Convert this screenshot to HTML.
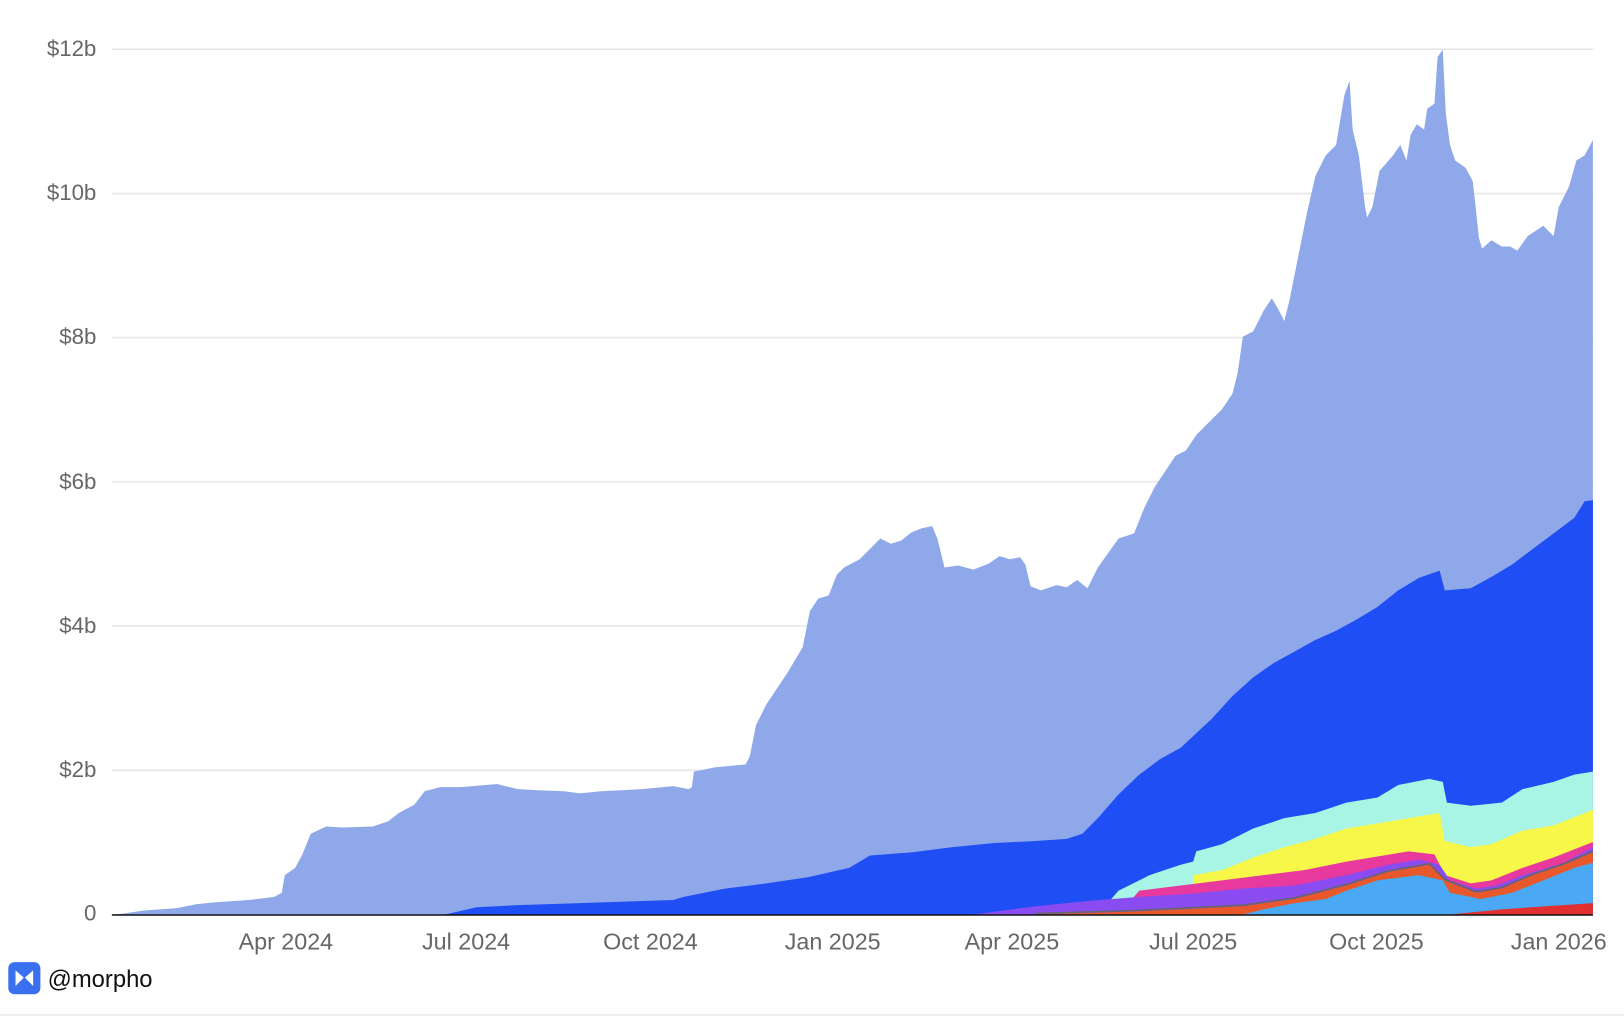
<!DOCTYPE html>
<html><head><meta charset="utf-8"><style>
html,body{margin:0;padding:0;background:#fff;}
svg{display:block;}
text{font-family:"Liberation Sans",Arial,sans-serif;}
</style></head><body>
<svg width="1624" height="1016" viewBox="0 0 1568 981" preserveAspectRatio="none" xmlns="http://www.w3.org/2000/svg">
<rect width="1568" height="981" fill="#fff"/>
<rect x="0" y="979" width="1568" height="2" fill="#eee"/>
<g stroke="#e6e6e6" stroke-width="1.5">
<line x1="108" y1="47.5" x2="1538" y2="47.5"/>
<line x1="108" y1="186.8" x2="1538" y2="186.8"/>
<line x1="108" y1="326" x2="1538" y2="326"/>
<line x1="108" y1="465.3" x2="1538" y2="465.3"/>
<line x1="108" y1="604.5" x2="1538" y2="604.5"/>
<line x1="108" y1="743.8" x2="1538" y2="743.8"/>
</g>
<g fill="#666" font-size="21.5" text-anchor="end">
<text x="93" y="54">$12b</text>
<text x="93" y="193">$10b</text>
<text x="93" y="332">$8b</text>
<text x="93" y="472">$6b</text>
<text x="93" y="611">$4b</text>
<text x="93" y="750">$2b</text>
<text x="93" y="889">0</text>
</g>
<polygon fill="#8fa8ea" points="110,883 120,882 140,879 170,877 190,873 210,871 240,869 265,866 272,862 275,845 285,838 292,825 300,805 315,798 330,799 360,798 375,793 385,785 400,777 410,764 425,760 445,760 480,757 500,762 520,763 545,764 560,766 580,764 620,762 650,759 665,762 668,760 670,745 690,741 720,738 724,730 730,700 740,680 760,650 775,625 782,590 790,578 800,575 808,555 815,548 830,540 840,530 850,520 860,525 870,522 880,514 890,510 900,508 905,520 912,548 925,546 940,550 955,544 965,537 975,540 985,538 990,545 995,566 1005,570 1020,565 1030,567 1040,560 1050,568 1060,548 1080,520 1095,515 1105,490 1115,470 1125,455 1135,440 1145,435 1155,420 1165,410 1180,395 1190,380 1195,360 1200,325 1210,320 1220,300 1228,288 1235,300 1240,310 1245,290 1255,240 1262,205 1270,170 1280,150 1290,140 1298,92 1303,78 1306,125 1312,150 1318,200 1320,210 1325,200 1332,165 1345,150 1352,140 1358,155 1362,130 1368,120 1375,125 1378,105 1385,100 1388,55 1393,48 1396,110 1400,140 1405,155 1415,162 1422,175 1428,230 1431,240 1440,232 1450,238 1458,238 1465,242 1475,228 1490,218 1500,228 1505,200 1515,180 1522,155 1530,150 1538,135 1538,883"/>
<polygon fill="#1f4ef5" points="430,883 460,876 500,874 560,872 620,870 650,869 660,866 700,858 740,853 780,847 820,838 840,826 880,823 920,818 960,814 1000,812 1030,810 1045,805 1060,790 1080,767 1100,748 1120,733 1140,722 1155,708 1170,694 1190,672 1210,654 1230,640 1250,629 1270,618 1290,609 1310,598 1330,586 1350,570 1370,558 1390,551 1395,570 1420,568 1440,557 1460,545 1480,530 1500,515 1520,500 1530,484 1538,483 1538,883"/>
<polygon fill="#a8f5e6" points="1060,883 1080,860 1110,845 1140,835 1152,832 1155,822 1180,815 1210,800 1240,790 1270,785 1300,775 1330,770 1350,758 1380,752 1393,755 1397,775 1420,778 1450,775 1470,762 1500,755 1520,748 1538,745 1538,883"/>
<polygon fill="#f7f74a" points="1152,883 1152,845 1180,840 1210,828 1240,818 1270,810 1300,800 1330,795 1360,790 1390,785 1395,812 1420,818 1440,815 1470,802 1500,797 1538,782 1538,883"/>
<polygon fill="#e8399e" points="1080,883 1100,860 1140,855 1180,850 1220,845 1260,840 1300,832 1330,827 1360,822 1385,825 1395,845 1420,853 1440,850 1470,838 1500,828 1538,813 1538,883"/>
<polygon fill="#8a4cf0" points="940,883 1000,875 1050,870 1100,866 1150,863 1200,858 1250,855 1300,845 1340,835 1370,830 1390,835 1400,850 1425,858 1445,855 1470,845 1510,833 1538,818 1538,883"/>
<polygon fill="#e8582b" points="1000,883 1100,880 1200,875 1250,868 1300,855 1340,842 1380,835 1395,850 1425,862 1450,858 1480,845 1510,835 1538,823 1538,883"/>
<polyline fill="none" stroke="#666" stroke-width="1.5" points="1000,882 1100,879 1200,874 1250,867 1300,854 1340,841 1380,834 1395,849 1425,861 1450,857 1480,844 1510,834 1538,822"/>
<polygon fill="#4aa8f5" points="1200,883 1220,878 1250,872 1280,868 1300,860 1330,850 1370,845 1393,850 1400,862 1430,868 1460,862 1490,850 1520,838 1538,833 1538,883"/>
<polygon fill="#e03030" points="1400,883 1450,878 1538,872 1538,883"/>
<line x1="108" y1="883.5" x2="1538" y2="883.5" stroke="#111" stroke-width="1.5"/>
<g fill="#666" font-size="22.5" text-anchor="middle">
<text x="276" y="917">Apr 2024</text>
<text x="450" y="917">Jul 2024</text>
<text x="628" y="917">Oct 2024</text>
<text x="804" y="917">Jan 2025</text>
<text x="977" y="917">Apr 2025</text>
<text x="1152" y="917">Jul 2025</text>
<text x="1329" y="917">Oct 2025</text>
<text x="1505" y="917">Jan 2026</text>
</g>
<rect x="8" y="929" width="31" height="31" rx="6" fill="#3a6ff0"/>
<path d="M15 937 L23 944 L15 952 Z M32 937 L24 944 L32 952 Z" fill="#fff"/>
<text x="46" y="953" font-size="23" fill="#111">@morpho</text>
</svg>
</body></html>
